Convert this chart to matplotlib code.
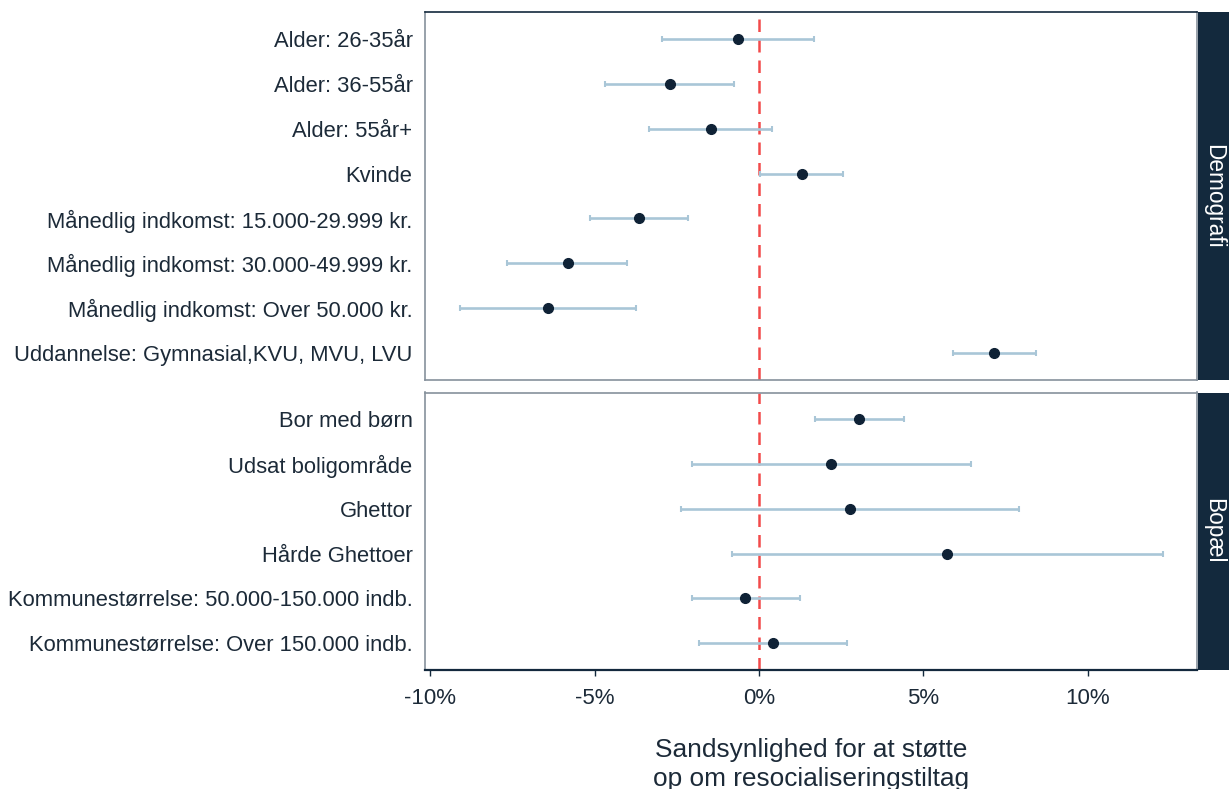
import numpy as np
import matplotlib.pyplot as plt

plt.rcParams['font.family'] = ['Liberation Sans', 'DejaVu Sans']

# Demografi panel
demo_labels = ["Alder: 26-35år", "Alder: 36-55år", "Alder: 55år+", "Kvinde",
               "Månedlig indkomst: 15.000-29.999 kr.",
               "Månedlig indkomst: 30.000-49.999 kr.",
               "Månedlig indkomst: Over 50.000 kr.",
               "Uddannelse: Gymnasial,KVU, MVU, LVU"]
demo_est = [-0.63, -2.72, -1.47, 1.30, -3.65, -5.82, -6.42, 7.16]
demo_lo = [-2.96, -4.68, -3.35, 0.02, -5.13, -7.65, -9.10, 5.92]
demo_hi = [1.68, -0.76, 0.40, 2.56, -2.16, -4.02, -3.74, 8.43]

# Bopæl panel
bop_labels = ["Bor med børn", "Udsat boligområde", "Ghettor", "Hårde Ghettoer",
              "Kommunestørrelse: 50.000-150.000 indb.",
              "Kommunestørrelse: Over 150.000 indb."]
bop_est = [3.05, 2.20, 2.78, 5.73, -0.41, 0.44]
bop_lo = [1.70, -2.05, -2.37, -0.83, -2.05, -1.82]
bop_hi = [4.40, 6.44, 7.92, 12.29, 1.25, 2.67]

facets = ["Demografi", "Bopæl"]
xticks = [-10, -5, 0, 5, 10]

W, H = 1229, 789
navy = "#13293d"
ci_col = "#a9c6d7"
txt = "#1c2a38"
xlim = (-10.16, 13.33)

fig = plt.figure(figsize=(W / 100, H / 100), dpi=100)

def fr(x0, y0, x1, y1):
    return [x0 / W, 1 - y1 / H, (x1 - x0) / W, (y1 - y0) / H]

panels = [
    (demo_labels, demo_est, demo_lo, demo_hi, (12, 380)),
    (bop_labels, bop_est, bop_lo, bop_hi, (392.5, 670)),
]

for k, (labels, est, lo, hi, (ytop, ybot)) in enumerate(panels):
    ax = fig.add_axes(fr(425, ytop, 1197, ybot))
    n = len(labels)
    y = np.arange(n)
    est = np.array(est)
    err = [est - np.array(lo), np.array(hi) - est]
    ax.axvline(0, color="#f24a4a", lw=1.8, ls=(0, (5, 3.2)), zorder=1)
    ax.errorbar(est, y, xerr=err, fmt="none", ecolor=ci_col, elinewidth=1.9,
                capsize=2, capthick=1.5, zorder=2)
    ax.plot(est, y, "o", color="#0f2236", ms=7, zorder=3)
    ax.set_ylim(n - 0.4, -0.6)
    ax.set_xlim(*xlim)
    ax.set_yticks(y)
    ax.set_yticklabels(labels, fontsize=15.8, color=txt)
    ax.tick_params(axis="y", length=0, pad=9)
    for s in ax.spines.values():
        s.set_color("#86919c")
        s.set_linewidth(1.2)
    if k == 0:
        ax.spines["top"].set_color(navy)
        ax.set_xticks([])
    else:
        ax.spines["bottom"].set_color(navy)
        ax.spines["bottom"].set_linewidth(1.6)
        ax.set_xticks(xticks)
        ax.set_xticklabels([f"{t}%" for t in xticks], fontsize=16, color=txt)
        ax.tick_params(axis="x", length=4, width=1, color=navy, pad=9)
        ax.set_xlabel("Sandsynlighed for at støtte\nop om resocialiseringstiltag",
                      fontsize=18.9, color=txt, labelpad=20.5, linespacing=1.27)

    strip = fig.add_axes(fr(1198, ytop, 1229, ybot))
    strip.set_facecolor(navy)
    strip.set_xticks([])
    strip.set_yticks([])
    for s in strip.spines.values():
        s.set_visible(False)
    strip.text(0.5, 0.5, facets[k], rotation=-90, ha="center", va="center",
               color="white", fontsize=16.3, transform=strip.transAxes)

fig.savefig("out.png", dpi=100)
